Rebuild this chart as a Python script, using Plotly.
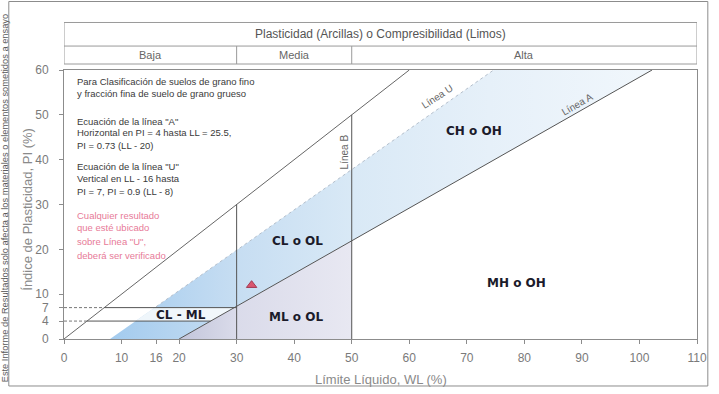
import plotly.graph_objects as go

# ---- chart data -------------------------------------------------------
x_ticks = [0, 10, 16, 20, 30, 40, 50, 60, 70, 80, 90, 100, 110]
y_ticks = [0, 4, 7, 10, 20, 30, 40, 50, 60]

# Line "A": horizontal at PI = 4 up to LL = 25.5, then PI = 0.73 (LL - 20)
a_slope, a_offset = 0.73, 20
# Line "U": vertical at LL = 16 up to PI = 7, then PI = 0.9 (LL - 8)
u_slope, u_offset = 0.9, 8
# Line "B": liquid limit 50
b_ll = 50
# low / medium plasticity boundary
low_ll = 30
# CL-ML band limits
band_pi = [4, 7]

class_names = ["Baja", "Media", "Alta"]
class_bounds = [0, 30, 50, 110]

region_names = ["CL - ML", "CL o OL", "ML o OL", "CH o OH", "MH o OH"]
region_ll = [20.4, 40.6, 40.4, 71.3, 78.6]
region_pi = [5.4, 21.9, 4.9, 46.4, 12.5]

sample_ll = [32.6]
sample_pi = [12.0]

note_lines = [
    "Para Clasificación de suelos de grano fino",
    "y fracción fina de suelo de grano grueso",
    "Ecuación de la línea \"A\"",
    "Horizontal en PI = 4 hasta LL = 25.5,",
    "PI = 0.73 (LL - 20)",
    "Ecuación de la línea \"U\"",
    "Vertical en LL - 16 hasta",
    "PI = 7, PI = 0.9 (LL - 8)",
]
note_pi = [57.4, 54.8, 48.6, 46.0, 43.1, 38.4, 35.7, 32.9]
warning_lines = ["Cualquier resultado", "que esté ubicado",
                 "sobre Línea \"U\",", "deberá ser verificado"]
warning_pi = [27.6, 24.8, 21.7, 18.7]

X_MAX, Y_MAX = 110, 60

NARROW = "Liberation Sans Narrow, Arial Narrow, Liberation Sans, sans-serif"
BOLD = "DejaVu Sans, Verdana, sans-serif"
LINE = "#555555"


def a_pi(ll):
    return a_slope * (ll - a_offset)


def a_ll(pi):
    return pi / a_slope + a_offset


def u_ll(pi):
    return pi / u_slope + u_offset


fig = go.Figure()

# blue zone between line U and line A
fig.add_trace(go.Scatter(
    x=[u_ll(0), u_ll(Y_MAX), a_ll(Y_MAX), a_ll(0), u_ll(0)],
    y=[0, Y_MAX, Y_MAX, 0, 0],
    mode="lines", line=dict(width=0), fill="toself",
    fillgradient=dict(type="horizontal",
                      colorscale=[[0, "#a3cbee"], [0.23, "#c6ddf2"],
                                  [0.45, "#d9e9f6"], [0.7, "#e6f0f9"],
                                  [1, "#f1f7fc"]]),
    hoverinfo="skip", showlegend=False))

# lavender zone below line A for low/medium plasticity
fig.add_trace(go.Scatter(
    x=[a_ll(0), b_ll, b_ll, a_ll(0)],
    y=[0, a_pi(b_ll), 0, 0],
    mode="lines", line=dict(width=0), fill="toself",
    fillgradient=dict(type="horizontal",
                      colorscale=[[0, "#c2c5da"], [0.33, "#dadbea"],
                                  [1, "#e8e8f2"]]),
    hoverinfo="skip", showlegend=False))

# CL-ML band
fig.add_trace(go.Scatter(
    x=[u_ll(band_pi[0]), u_ll(band_pi[1]), a_ll(band_pi[1]),
       a_ll(band_pi[0]), u_ll(band_pi[0])],
    y=[band_pi[0], band_pi[1], band_pi[1], band_pi[0], band_pi[0]],
    mode="lines", line=dict(width=0), fill="toself",
    fillcolor="rgba(246,249,252,0.9)",
    hoverinfo="skip", showlegend=False))


def seg(xs, ys, dash="solid", color=LINE, width=1):
    fig.add_trace(go.Scatter(x=xs, y=ys, mode="lines",
                             line=dict(color=color, width=width, dash=dash),
                             hoverinfo="skip", showlegend=False))


# PI = LL limit
seg([0, Y_MAX], [0, Y_MAX], color="#666666")
# line U (dotted)
seg([16, u_ll(Y_MAX)], [u_slope * (16 - u_offset), Y_MAX],
    dash="dot", color="#b4bfcc")
# line A
seg([a_ll(0), a_ll(Y_MAX)], [0, Y_MAX])
# CL-ML band boundaries
seg([0, band_pi[1]], [band_pi[1], band_pi[1]], dash="3px,2px", color="#777777")
seg([band_pi[1], low_ll], [band_pi[1], band_pi[1]])
seg([0, band_pi[0]], [band_pi[0], band_pi[0]], dash="3px,2px", color="#777777")
seg([band_pi[0], a_ll(band_pi[0])], [band_pi[0], band_pi[0]])
# plasticity boundaries
seg([low_ll, low_ll], [0, low_ll])
seg([b_ll, b_ll], [0, b_ll])

# tested sample
fig.add_trace(go.Scatter(
    x=sample_ll, y=sample_pi, mode="markers",
    marker=dict(symbol="triangle-up", size=9, color="#d9566f",
                line=dict(color="#a23a52", width=1)),
    hoverinfo="skip", showlegend=False))

ann = []
for name, ll, pi in zip(region_names, region_ll, region_pi):
    ann.append(dict(x=ll, y=pi, text=f"<b>{name}</b>", showarrow=False,
                    font=dict(family=BOLD, size=12, color="#1b1b2b")))

ann += [
    dict(x=64.9, y=54.0, text="Línea U", textangle=-33, showarrow=False,
         font=dict(family=NARROW, size=10, color="#666666")),
    dict(x=89.1, y=52.4, text="Línea A", textangle=-30, showarrow=False,
         font=dict(family=NARROW, size=10, color="#666666")),
    dict(x=48.8, y=41.8, text="Línea B", textangle=-90, showarrow=False,
         font=dict(family=NARROW, size=10, color="#666666")),
]

for line, pi in zip(note_lines, note_pi):
    ann.append(dict(x=1.9, y=pi, xanchor="left", yanchor="middle",
                    text=line, showarrow=False,
                    font=dict(family=NARROW, size=9.5, color="#3a3a3a")))
for line, pi in zip(warning_lines, warning_pi):
    ann.append(dict(x=1.9, y=pi, xanchor="left", yanchor="middle",
                    text=line, showarrow=False,
                    font=dict(family=NARROW, size=9.5, color="#e77a98")))

# header table text
ann.append(dict(x=(class_bounds[0] + class_bounds[-1]) / 2, y=1.134,
                xref="x", yref="paper", yanchor="middle",
                text="Plasticidad (Arcillas) o Compresibilidad (Limos)",
                showarrow=False,
                font=dict(family=NARROW, size=12, color="#555555")))
for name, lo, hi in zip(class_names, class_bounds[:-1], class_bounds[1:]):
    ann.append(dict(x=(lo + hi) / 2, y=1.056, xref="x", yref="paper",
                    yanchor="middle", text=name, showarrow=False,
                    font=dict(family=NARROW, size=11, color="#666666")))

# axis titles
ann.append(dict(x=-0.059, y=0.483, xref="paper", yref="paper",
                xanchor="center", yanchor="middle",
                text="Índice de Plasticidad, PI (%)", textangle=-90,
                showarrow=False,
                font=dict(family=NARROW, size=13, color="#8a8a8a")))
ann.append(dict(x=0.5, y=-0.149, xref="paper", yref="paper",
                xanchor="center", yanchor="middle",
                text="Límite Líquido, WL (%)", showarrow=False,
                font=dict(family=NARROW, size=13, color="#8a8a8a")))

# report footnote along the left edge
ann.append(dict(x=-0.093, y=-0.168, xref="paper", yref="paper",
                xanchor="center", yanchor="bottom", textangle=-90,
                text="Este Informe de Resultados solo afecta a los materiales "
                     "o elementos sometidos a ensayo",
                showarrow=False,
                font=dict(family="Liberation Sans, Arial, sans-serif",
                          size=9.3, color="#5a5a5a")))

shapes = [
    # header table
    dict(type="rect", xref="x", yref="paper", x0=0, x1=X_MAX,
         y0=1.0223, y1=1.1766, line=dict(color="#9a9a9a", width=1)),
    dict(type="line", xref="x", yref="paper", x0=0, x1=X_MAX,
         y0=1.089, y1=1.089, line=dict(color="#9a9a9a", width=1)),
    # page frame
    dict(type="rect", xref="paper", yref="paper", x0=-0.0872, x1=1.0171,
         y0=-0.1747, y1=1.2546, line=dict(color="#8c8c8c", width=1)),
]
for b in class_bounds[1:-1]:
    shapes.append(dict(type="line", xref="x", yref="paper", x0=b, x1=b,
                       y0=1.0223, y1=1.089,
                       line=dict(color="#9a9a9a", width=1)))

axis_common = dict(showgrid=False, zeroline=False, showline=True,
                   linecolor="#8c8c8c", linewidth=1, mirror=True,
                   ticks="outside", ticklen=4, tickcolor="#8c8c8c",
                   tickfont=dict(family=NARROW, size=12, color="#7a7a7a"))

fig.update_layout(
    width=719, height=394,
    margin=dict(l=64, r=13, t=70, b=55),
    paper_bgcolor="white", plot_bgcolor="white",
    xaxis=dict(range=[0, X_MAX], tickvals=x_ticks, ticklabelstandoff=4,
               **axis_common),
    yaxis=dict(range=[0, Y_MAX], tickvals=y_ticks, ticklabelstandoff=8,
               **axis_common),
    annotations=ann, shapes=shapes,
)

fig.write_html("out.html")
